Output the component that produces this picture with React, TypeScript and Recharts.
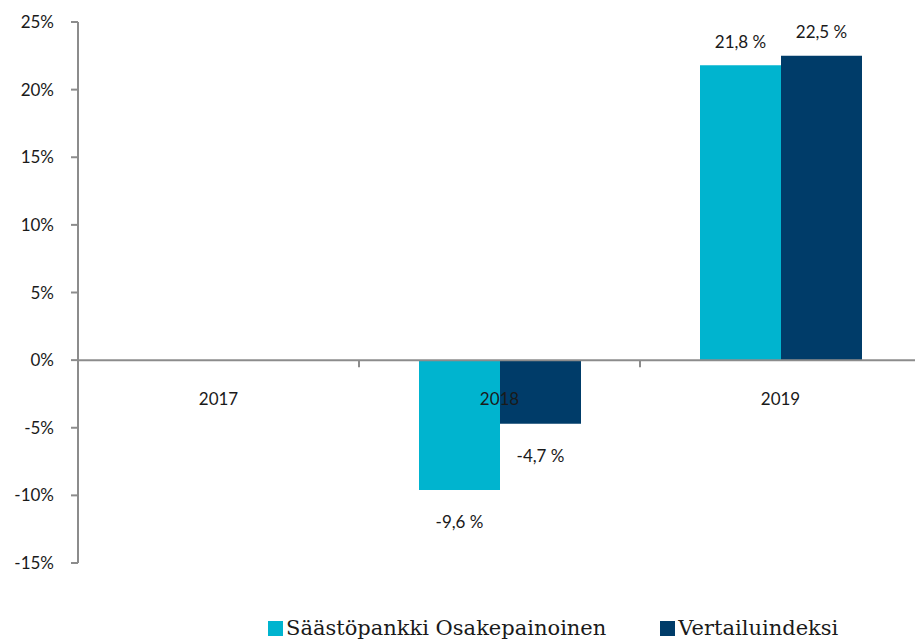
import { BarChart, Bar, XAxis, YAxis, ReferenceLine, Legend, LabelList } from "recharts";

const years = ["2017", "2018", "2019"];
const fundReturns: (number | null)[] = [null, -9.6, 21.8];
const indexReturns: (number | null)[] = [null, -4.7, 22.5];
const yTicks = [-15, -10, -5, 0, 5, 10, 15, 20, 25];
const seriesNames = ["Säästöpankki Osakepainoinen", "Vertailuindeksi"];

const data = years.map((year, i) => ({
  year,
  fund: fundReturns[i],
  index: indexReturns[i],
}));

const CHART_W = 921;
const CHART_H = 639;
const TOP = 22;
const BOTTOM_MARGIN = 16;
const XAXIS_H = 30;
const LEGEND_H = 30;
const Y_MIN = -15;
const Y_MAX = 25;
const YAXIS_W = 78;

const PLOT_H = CHART_H - TOP - BOTTOM_MARGIN - XAXIS_H - LEGEND_H;
const ZERO_Y = TOP + ((Y_MAX - 0) / (Y_MAX - Y_MIN)) * PLOT_H;
const BAND = (CHART_W - YAXIS_W) / years.length;

const CYAN = "#00B4CF";
const NAVY = "#003C69";
const GRAY = "#8C8C8C";
const FONT = "Lato, 'Noto Sans', sans-serif";

const fmt = (v: number) => v.toFixed(1).replace(".", ",") + " %";

// category label sits under the zero line, tick marks at band edges
const YearTick = (props: any) => {
  const { x, payload } = props;
  return (
    <g>
      <text
        x={x}
        y={ZERO_Y + 38}
        textAnchor="middle"
        dominantBaseline="central"
        fontSize={17}
        fontFamily={FONT}
        fill="#1a1a1a"
      >
        {payload.value}
      </text>
      <line x1={x + BAND / 2} x2={x + BAND / 2} y1={ZERO_Y} y2={ZERO_Y + 7} stroke={GRAY} strokeWidth={2} />
    </g>
  );
};

const ValueLabel = (props: any) => {
  const { x, y, width, height, value } = props;
  if (value === null || value === undefined) return null;
  const top = Math.min(y, y + height);
  const bottom = Math.max(y, y + height);
  const ty = value >= 0 ? top - 24 : bottom + 32;
  return (
    <text
      x={x + width / 2}
      y={ty}
      textAnchor="middle"
      dominantBaseline="central"
      fontSize={17}
      fontFamily={FONT}
      fill="#1a1a1a"
    >
      {fmt(value)}
    </text>
  );
};

const LegendContent = (props: any) => {
  const { payload } = props;
  return (
    <div style={{ height: LEGEND_H, display: "flex", alignItems: "center", paddingLeft: 268, paddingTop: 8, boxSizing: "border-box" }}>
      {(payload || []).map((item: any, i: number) => (
        <div key={i} style={{ display: "flex", alignItems: "center", marginRight: 54 }}>
          <span style={{ width: 15, height: 15, background: item.color, display: "inline-block", marginRight: 3 }} />
          <span style={{ fontFamily: "'DejaVu Serif', serif", fontSize: 21, color: "#1a1a1a" }}>
            {item.value}
          </span>
        </div>
      ))}
    </div>
  );
};

export default function App() {
  return (
    <div style={{ position: "absolute", left: 0, top: 0, width: 915, height: 639, overflow: "hidden", background: "#fff" }}>
      <BarChart
        width={CHART_W}
        height={CHART_H}
        data={data}
        margin={{ top: TOP, right: 0, left: 0, bottom: BOTTOM_MARGIN }}
        barGap={0}
      >
        <YAxis
          width={YAXIS_W}
          domain={[Y_MIN, Y_MAX]}
          ticks={yTicks}
          tickFormatter={(v: number) => `${v}%`}
          axisLine={{ stroke: GRAY, strokeWidth: 2 }}
          tickLine={{ stroke: GRAY, strokeWidth: 2 }}
          tickSize={7}
          tickMargin={17}
          tick={{ fontSize: 17, fontFamily: FONT, fill: "#1a1a1a" }}
          interval={0}
        />
        <Bar dataKey="fund" name={seriesNames[0]} fill={CYAN} barSize={81} isAnimationActive={false}>
          <LabelList dataKey="fund" content={ValueLabel} />
        </Bar>
        <Bar dataKey="index" name={seriesNames[1]} fill={NAVY} barSize={81} isAnimationActive={false}>
          <LabelList dataKey="index" content={ValueLabel} />
        </Bar>
        <ReferenceLine y={0} stroke={GRAY} strokeWidth={2} />
        <XAxis
          dataKey="year"
          height={XAXIS_H}
          axisLine={false}
          tickLine={false}
          tick={YearTick}
          interval={0}
        />
        <Legend
          verticalAlign="bottom"
          content={LegendContent}
          wrapperStyle={{ bottom: 0, left: 0, width: 915 }}
        />
      </BarChart>
    </div>
  );
}
